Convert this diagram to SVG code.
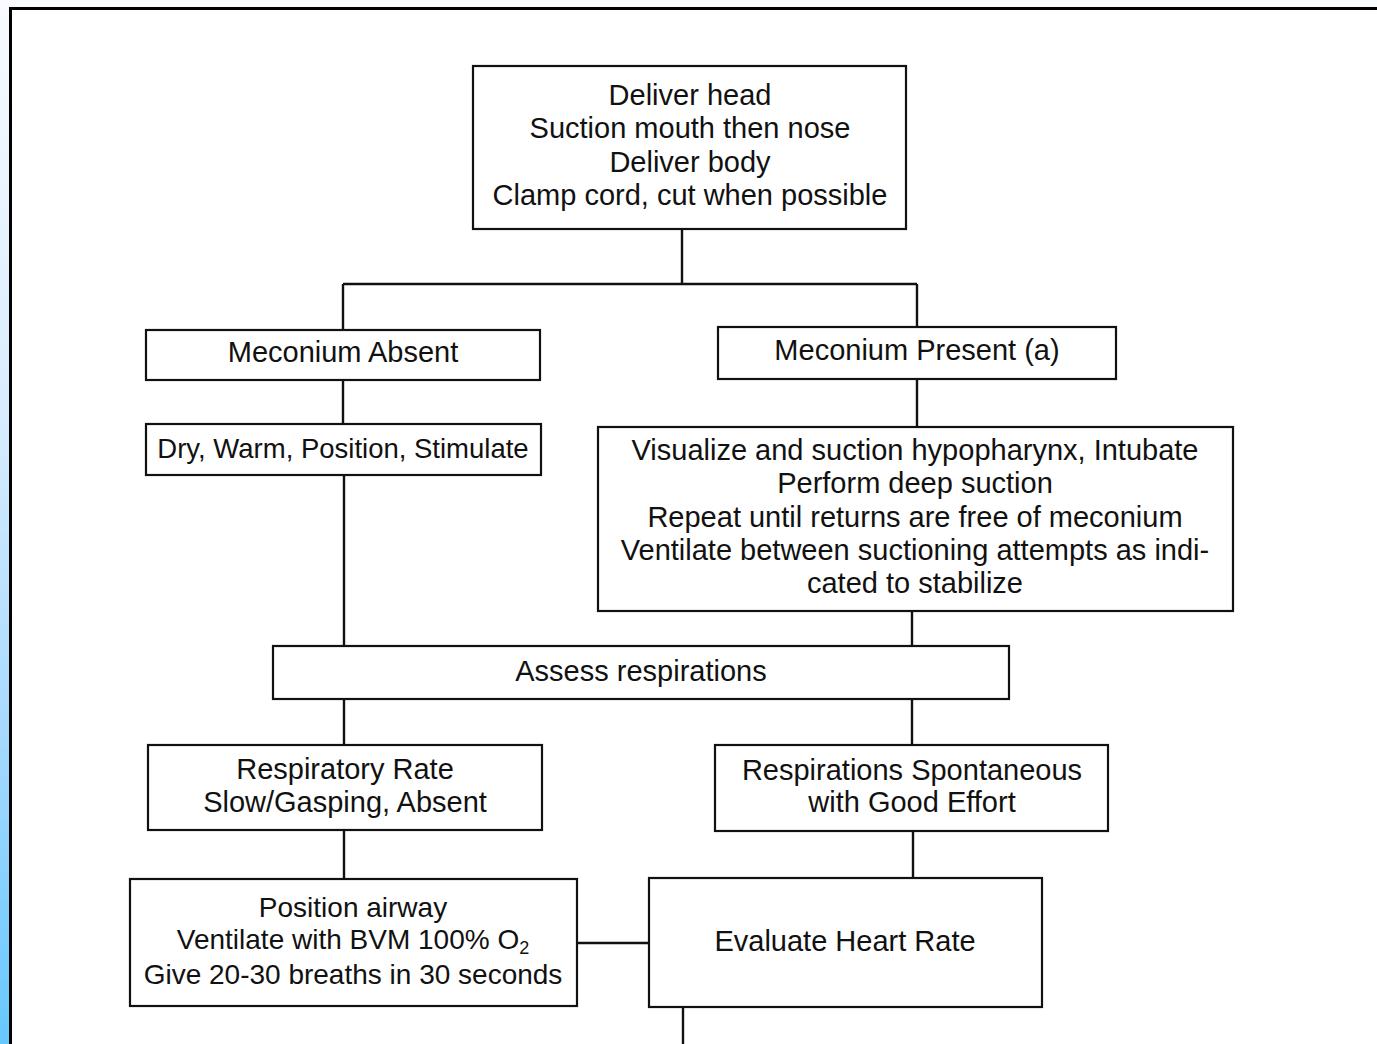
<svg xmlns="http://www.w3.org/2000/svg" width="1377" height="1044" viewBox="0 0 1377 1044">
<defs>
<linearGradient id="strip" x1="0" y1="0" x2="0" y2="1">
<stop offset="0" stop-color="#f8fbff"/>
<stop offset="0.4" stop-color="#d8ecff"/>
<stop offset="0.7" stop-color="#a6d9ff"/>
<stop offset="1" stop-color="#66c8ff"/>
</linearGradient>
<style>
.box{fill:#fff;stroke:#111;stroke-width:2.2}
.ln{fill:none;stroke:#111;stroke-width:2.4}
text{font-family:"Liberation Sans",Arial,Helvetica,sans-serif;font-size:29px;fill:#111;text-anchor:middle}
</style>
</defs>
<rect x="0" y="0" width="1377" height="1044" fill="#fff"/>
<rect x="0" y="0" width="1377" height="7" fill="#f8fbff"/>
<rect x="0" y="0" width="9" height="1044" fill="url(#strip)"/>
<g id="frame">
<line x1="9" y1="8.5" x2="1377" y2="8.5" stroke="#000" stroke-width="3"/>
<line x1="10.5" y1="7" x2="10.5" y2="1044" stroke="#000" stroke-width="3"/>
</g>
<g id="connectors">
<path class="ln" d="M682,229 V284 M343,284 H917 M343,284 V330 M917,284 V327"/>
<path class="ln" d="M343,380 V424 M917,379 V427"/>
<path class="ln" d="M344,475 V646 M912,611 V646"/>
<path class="ln" d="M344,699 V745 M912,699 V745"/>
<path class="ln" d="M344,830 V879 M913,831 V878"/>
<path class="ln" d="M577,943 H649"/>
<path class="ln" d="M683,1007 V1044"/>
</g>
<g id="n_deliver">
<rect class="box" x="473" y="66" width="433" height="163"/>
<text x="690" y="105">Deliver head</text>
<text x="690" y="138">Suction mouth then nose</text>
<text x="690" y="172">Deliver body</text>
<text x="690" y="205">Clamp cord, cut when possible</text>
</g>
<g id="n_absent">
<rect class="box" x="146" y="330" width="394" height="50"/>
<text x="343" y="362">Meconium Absent</text>
</g>
<g id="n_present">
<rect class="box" x="718" y="327" width="398" height="52"/>
<text x="917" y="360">Meconium Present (a)</text>
</g>
<g id="n_dry">
<rect class="box" x="146" y="424" width="395" height="51"/>
<text x="343" y="458" style="font-size:27.5px">Dry, Warm, Position, Stimulate</text>
</g>
<g id="n_visualize">
<rect class="box" x="598" y="427" width="635" height="184"/>
<text x="915" y="460">Visualize and suction hypopharynx, Intubate</text>
<text x="915" y="493">Perform deep suction</text>
<text x="915" y="527">Repeat until returns are free of meconium</text>
<text x="915" y="560">Ventilate between suctioning attempts as indi-</text>
<text x="915" y="593">cated to stabilize</text>
</g>
<g id="n_assess">
<rect class="box" x="273" y="646" width="736" height="53"/>
<text x="641" y="681">Assess respirations</text>
</g>
<g id="n_slow">
<rect class="box" x="148" y="745" width="394" height="85"/>
<text x="345" y="779">Respiratory Rate</text>
<text x="345" y="812">Slow/Gasping, Absent</text>
</g>
<g id="n_spont">
<rect class="box" x="715" y="745" width="393" height="86"/>
<text x="912" y="780">Respirations Spontaneous</text>
<text x="912" y="812">with Good Effort</text>
</g>
<g id="n_airway">
<rect class="box" x="130" y="879" width="447" height="127"/>
<text x="353" y="917" style="font-size:28px">Position airway</text>
<text x="353" y="949" style="font-size:28px">Ventilate with BVM 100% O<tspan dy="5" font-size="18">2</tspan></text>
<text x="353" y="984" style="font-size:28px">Give 20-30 breaths in 30 seconds</text>
</g>
<g id="n_heart">
<rect class="box" x="649" y="878" width="393" height="129"/>
<text x="845" y="951">Evaluate Heart Rate</text>
</g>
</svg>
